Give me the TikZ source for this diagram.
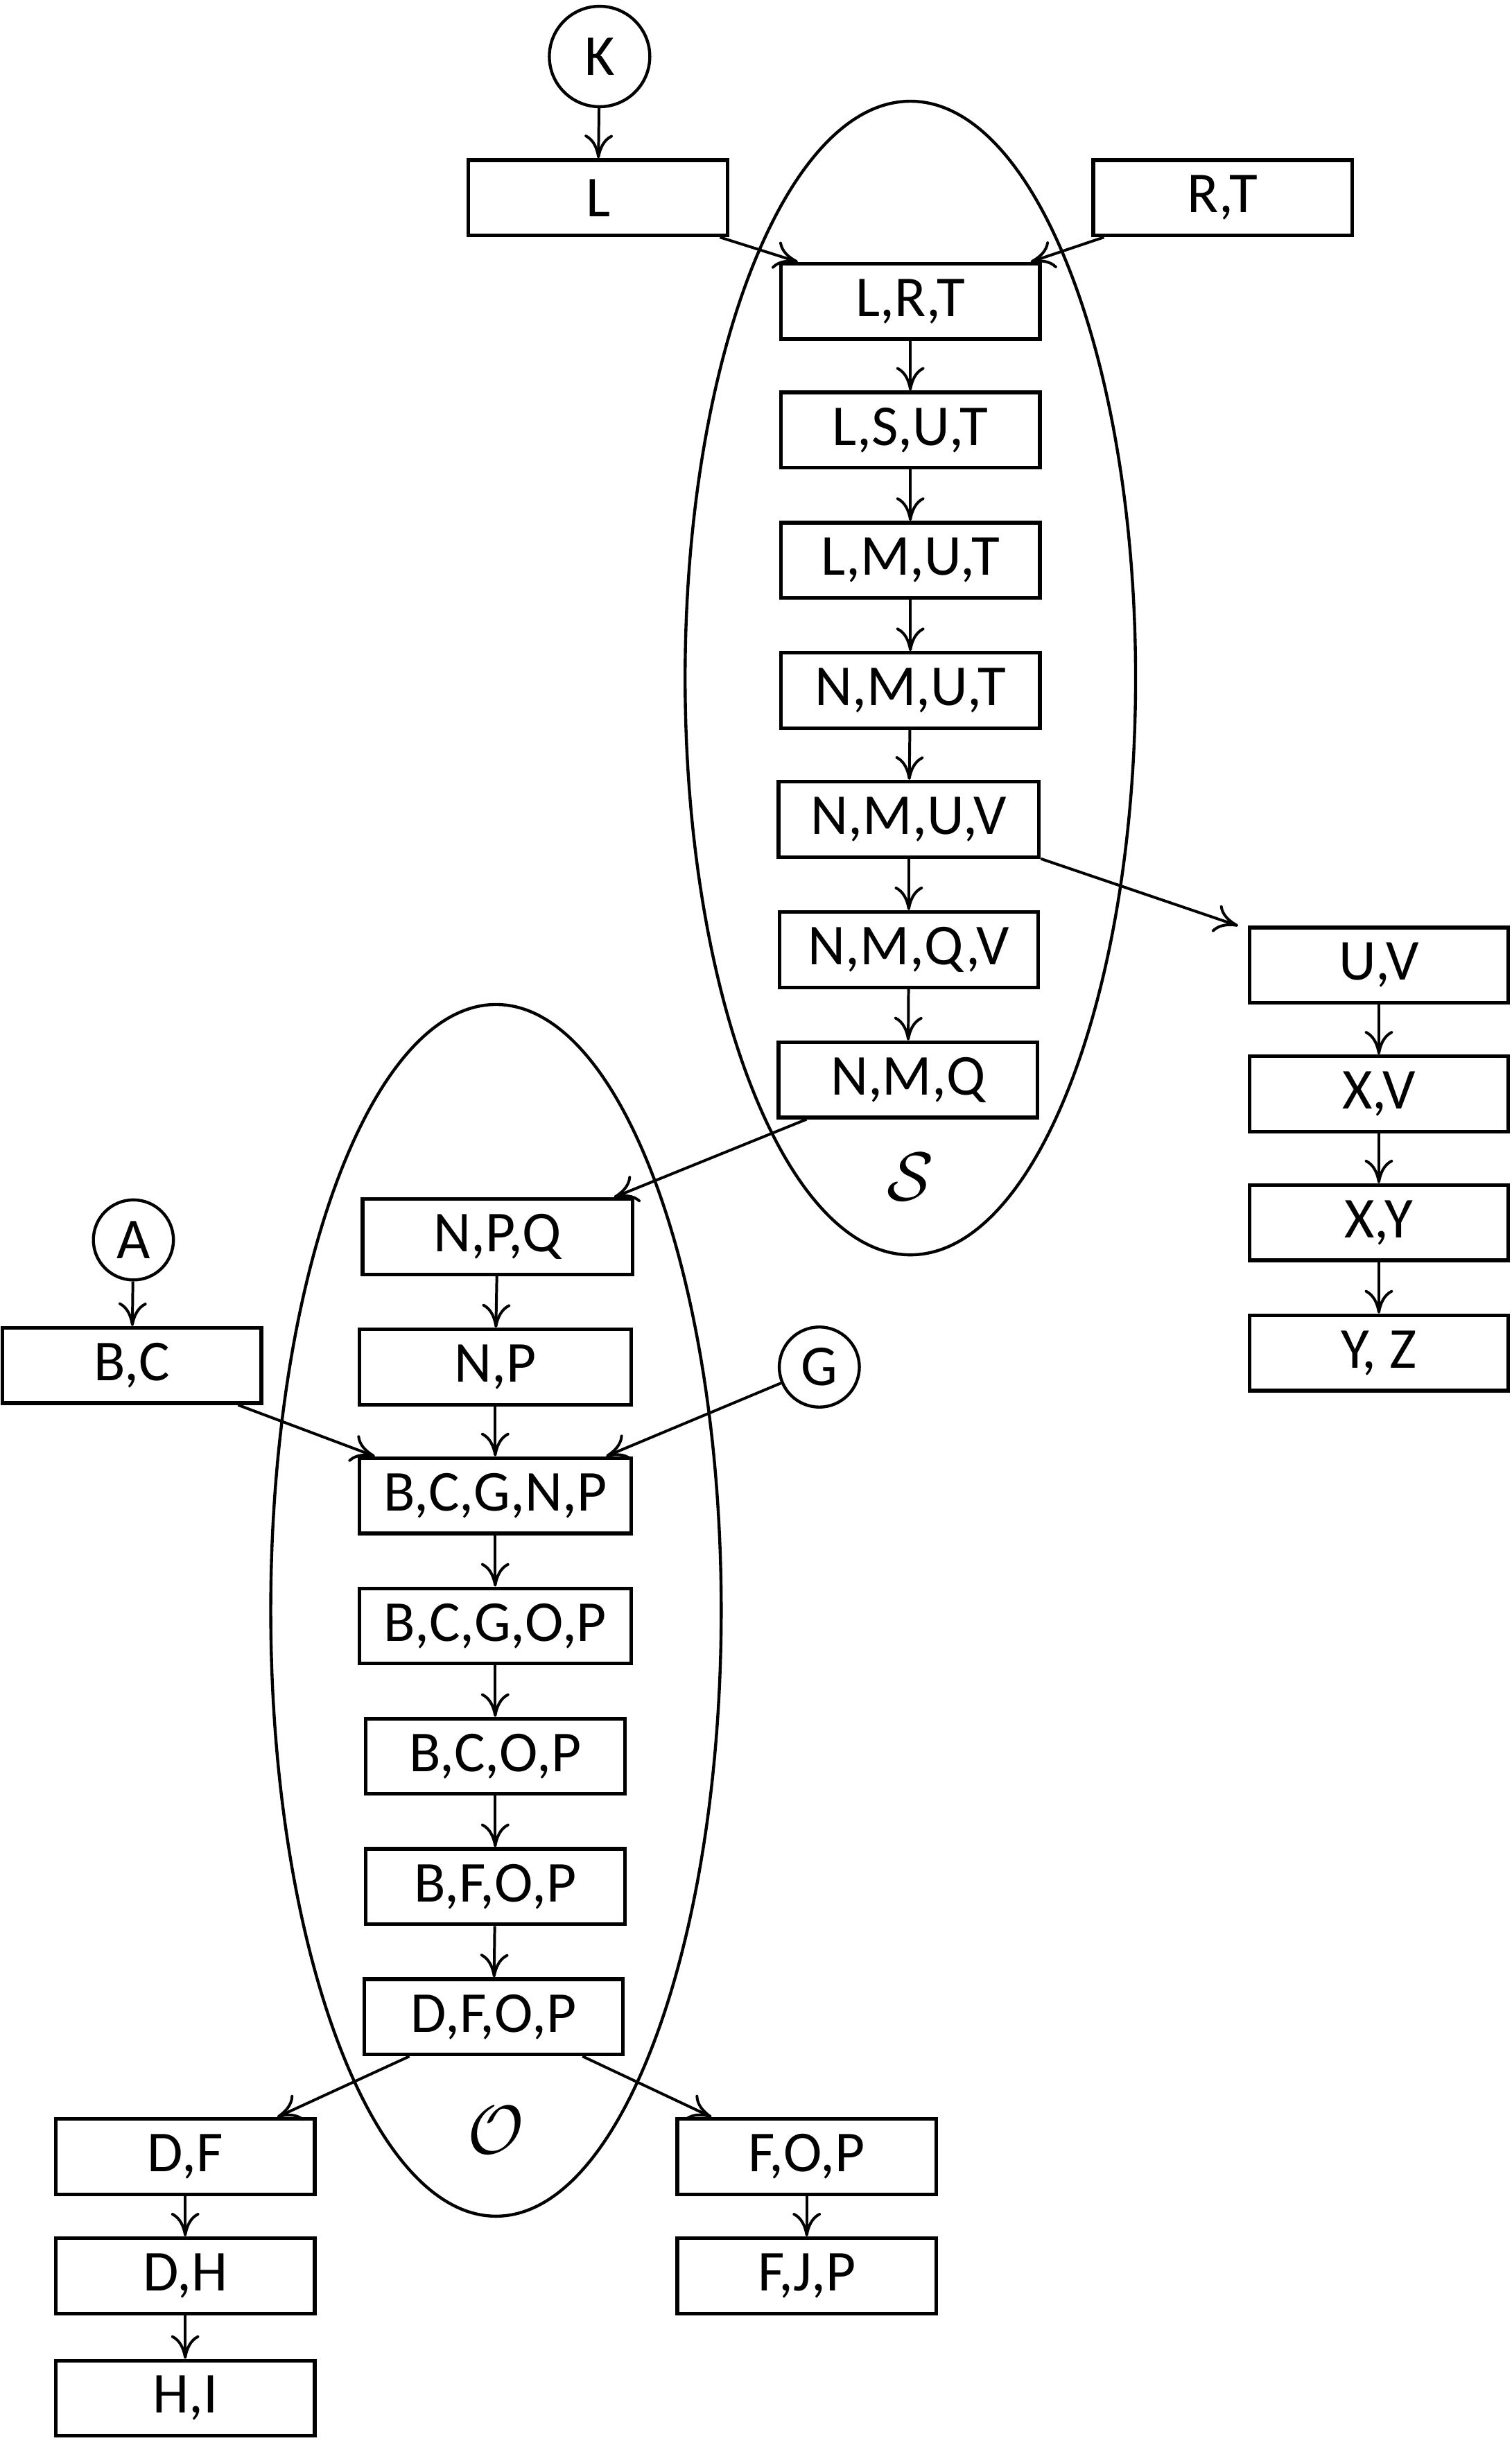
\documentclass[tikz,border=0pt]{standalone}
\usepackage{fontspec}
\setmainfont{Carlito}
\usetikzlibrary{arrows.meta,shapes.geometric}
\tikzset{
  >={Computer Modern Rightarrow[length=3mm,width=3.6mm]},
  bag/.style={draw,fill=white,line width=1.3pt,minimum width=#1,minimum height=9.6mm,
    inner sep=0pt,font=\fontsize{21}{25}\selectfont},
  bag/.default=33mm,
  leaf/.style={circle,draw,fill=white,line width=1.1pt,minimum size=#1,inner sep=0pt,
    font=\fontsize{21}{25}\selectfont},
  leaf/.default=10.2mm,
  clique/.style={ellipse,draw,line width=1.1pt,minimum width=57.4mm,minimum height=#1,inner sep=0pt},
  link/.style={->,line width=1pt},
  setname/.style={font=\fontsize{24}{28}\selectfont},
}

\begin{document}
\begin{tikzpicture}[x=0.2mm,y=-0.2mm]
  \useasboundingbox (0,0) rectangle (963,1568);
  % the two cliques
  \node[clique=147mm] (cS) at (580,432) {};
  \node[clique=154.4mm] (cO) at (316,1026) {};
  \node[setname] (lS) at (580,750) {$\mathcal{S}$};
  \node[setname] (lO) at (316,1357) {$\mathcal{O}$};

  % upper part
  \node[leaf=12.8mm] (K) at (382,36) {K};
  \node[bag] (L) at (381,126) {L};
  \node[bag] (RT) at (779,126) {R,T};
  \node[bag] (LRT) at (580,192) {L,R,T};
  \node[bag] (LSUT) at (580,274) {L,S,U,T};
  \node[bag] (LMUT) at (580,357) {L,M,U,T};
  \node[bag=33.2mm] (NMUV) at (579,522) {N,M,U,V};
  \node[bag] (NMUT) at (580,440) {N,M,U,T};
  \node[bag] (NMQV) at (579,605) {N,M,Q,V};
  \node[bag] (NMQ) at (578.5,688) {N,M,Q};
  \node[bag] (UV) at (878.5,615) {U,V};
  \node[bag] (XV) at (878.5,697) {X,V};
  \node[bag] (XY) at (878.5,779) {X,Y};
  \node[bag] (YZ) at (878.5,862) {Y, Z};

  % lower part
  \node[leaf] (A) at (85,790) {A};
  \node[leaf] (G) at (522,871) {G};
  \node[bag] (BC) at (84,870) {B,C};
  \node[bag=34.4mm] (NPQ) at (317,788) {N,P,Q};
  \node[bag=34.6mm] (NP) at (315.5,871) {N,P};
  \node[bag=34.6mm] (BCGNP) at (315.5,953) {B,C,G,N,P};
  \node[bag=34.6mm] (BCGOP) at (315.5,1036) {B,C,G,O,P};
  \node[bag] (BCOP) at (315.5,1119) {B,C,O,P};
  \node[bag] (BFOP) at (315.5,1202) {B,F,O,P};
  \node[bag] (DFOP) at (314.5,1285) {D,F,O,P};
  \node[bag] (DF) at (118,1374) {D,F};
  \node[bag] (DH) at (118,1450) {D,H};
  \node[bag] (HI) at (118,1528) {H,I};
  \node[bag] (FOP) at (514,1374) {F,O,P};
  \node[bag] (FJP) at (514,1450) {F,J,P};

  % connectors
  \draw[link] (K) -- (L);
  \draw[link] ([xshift=-1.2mm]L.south east) -- ([xshift=2.4mm]LRT.north west);
  \draw[link] ([xshift=1.6mm]RT.south west) -- ([xshift=-1.4mm]LRT.north east);
  \foreach \a/\b in {LRT/LSUT,LSUT/LMUT,LMUT/NMUT,NMUT/NMUV,NMUV/NMQV,NMQV/NMQ,
    UV/XV,XV/XY,XY/YZ}
    \draw[link] (\a) -- (\b);
  \draw[link] (NMUV.south east) -- ([xshift=-1.2mm]UV.north west);
  \draw[link] ([xshift=3.8mm]NMQ.south west) -- ([xshift=-2.6mm]NPQ.north east);
  \draw[link] (A) -- (BC);
  \draw[link] ([xshift=-3.2mm]BC.south east) -- ([xshift=2.2mm]BCGNP.north west);
  \draw[link] (G) -- ([xshift=-3.4mm]BCGNP.north east);
  \foreach \a/\b in {NPQ/NP,NP/BCGNP,BCGNP/BCGOP,BCGOP/BCOP,BCOP/BFOP,BFOP/DFOP,
    DF/DH,DH/HI,FOP/FJP}
    \draw[link] (\a) -- (\b);
  \draw[link] ([xshift=6mm]DFOP.south west) -- ([xshift=-5mm]DF.north east);
  \draw[link] ([xshift=-5.4mm]DFOP.south east) -- ([xshift=4.6mm]FOP.north west);
\end{tikzpicture}
\end{document}
